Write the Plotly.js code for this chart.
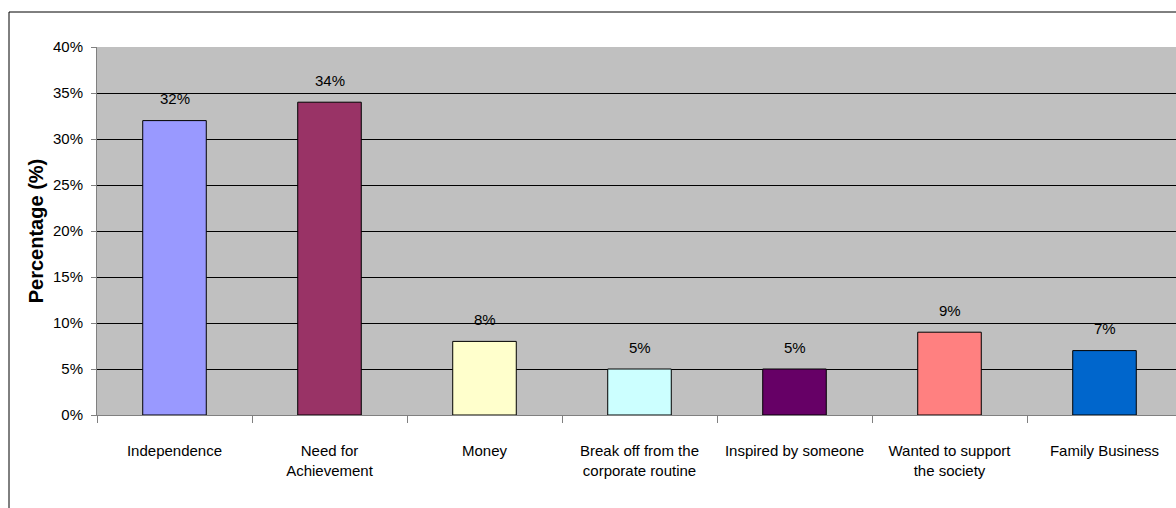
<!DOCTYPE html>
<html>
<head>
<meta charset="utf-8">
<script src="https://cdn.plot.ly/plotly-3.0.1.min.js"></script>
<style>
html,body{margin:0;padding:0;overflow:hidden;background:#fff;}
#chart{width:1176px;height:508px;}
</style>
</head>
<body>
<div id="chart"></div>
<script>
const categories = ["Independence", "Need for<br>Achievement", "Money", "Break off from the<br>corporate routine", "Inspired by someone", "Wanted to support<br>the society", "Family Business"];
const percentages = [32, 34, 8, 5, 5, 9, 7];
const barColors = ["#9999FF", "#993366", "#FFFFCC", "#CCFFFF", "#660066", "#FF8080", "#0066CC"];
const yTicks = [0, 5, 10, 15, 20, 25, 30, 35, 40];

const FONT = "'Liberation Sans', Arial, sans-serif";

const trace = {
  type: "bar",
  x: categories,
  y: percentages,
  width: 0.41,
  marker: {color: barColors, line: {color: "#000000", width: 1}},
  hoverinfo: "skip"
};

const annotations = percentages.map((v, i) => ({
  x: i, y: v, xref: "x", yref: "y",
  text: v + "%",
  showarrow: false,
  yanchor: "middle",
  yshift: 22,
  font: {family: FONT, size: 15, color: "#000"}
}));

const layout = {
  width: 1176, height: 508,
  margin: {l: 97, r: 0, t: 47, b: 93},
  paper_bgcolor: "#ffffff",
  plot_bgcolor: "#C0C0C0",
  showlegend: false,
  font: {family: FONT, size: 15, color: "#000"},
  xaxis: {
    type: "category",
    range: [-0.5, 6.5 - 6 / 155],
    tickson: "boundaries",
    ticks: "outside", ticklen: 7, tickcolor: "#808080", tickwidth: 1,
    showgrid: false, zeroline: false,
    showline: true, linecolor: "#808080", linewidth: 1,
    ticklabelstandoff: 22,
    tickfont: {family: FONT, size: 15, color: "#000"},
    fixedrange: true
  },
  yaxis: {
    range: [0, 40],
    tickvals: yTicks,
    ticktext: yTicks.map(v => v + "%"),
    ticks: "outside", ticklen: 5, tickcolor: "#808080",
    showgrid: true, gridcolor: "#000000", gridwidth: 1,
    zeroline: false,
    showline: true, linecolor: "#808080", linewidth: 1,
    ticklabelstandoff: 5,
    tickfont: {family: FONT, size: 15, color: "#000"},
    title: {text: "Percentage (%)", font: {family: FONT, size: 20, color: "#000", weight: "bold"}, standoff: 3},
    fixedrange: true
  },
  annotations: annotations,
  shapes: [
    {type: "line", xref: "paper", yref: "paper", x0: (9 - 97) / 1079, x1: (9 - 97) / 1079, y0: (415 - 12) / 368, y1: -0.4, line: {color: "#000", width: 1}},
    {type: "line", xref: "paper", yref: "paper", x0: (9 - 97) / 1079, x1: 1.1, y0: (415 - 12) / 368, y1: (415 - 12) / 368, line: {color: "#000", width: 1}}
  ]
};

Plotly.newPlot("chart", [trace], layout, {displayModeBar: false, staticPlot: true});
</script>
</body>
</html>
